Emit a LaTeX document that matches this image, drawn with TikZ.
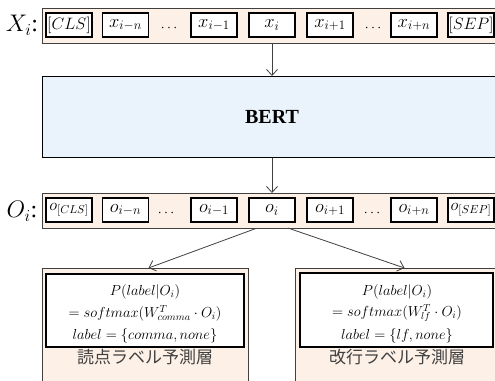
\RequirePackage{fix-cm}
\documentclass[tikz,border=0pt]{standalone}
\usepackage{fontspec}
\setmainfont{Liberation Serif}
\newfontfamily\jp{Noto Sans CJK JP}
\usetikzlibrary{arrows.meta}
\definecolor{peach}{HTML}{FDF1E7}
\definecolor{bertblue}{HTML}{EAF2FB}
\definecolor{edge}{HTML}{404040}
\begin{document}
\begin{tikzpicture}[x=1pt,y=-1pt,
  row/.style={draw=edge, fill=peach, line width=1pt, inner sep=0pt, anchor=north west},
  tok/.style={draw=black, fill=white, line width=1.1pt, minimum width=46pt, minimum height=24pt, inner sep=0pt, font=\fontsize{18.5}{20}\selectfont},
  spec/.style={tok, line width=1.5pt, font=\fontsize{16.5}{18}\selectfont},
  dots/.style={font=\fontsize{14}{16}\selectfont},
  lab/.style={font=\fontsize{24}{26}\selectfont},
  arr/.style={draw=edge, line width=0.8pt, -{Straight Barb[length=6pt,width=11pt]}},
  inbox/.style={draw=black, fill=white, line width=1.1pt, inner sep=0pt},
  formula/.style={inner xsep=0pt, inner ysep=-1pt, font=\fontsize{14.5}{16}\selectfont},
  jplab/.style={font=\jp\fontsize{17}{20}\selectfont, text=black!75}
]
\useasboundingbox (0,0) rectangle (495,380);
\clip (0,0) rectangle (495,380);

% input row
\node[row, minimum width=460pt, minimum height=35pt] (xrow) at (42,8) {};
\node[lab] (xlab) at (22,25) {$X_i$:};
\node[spec] (xcls) at (69,25) {$[CLS]$};
\node[tok] (xim) at (125.5,25) {$x_{i-n}$};
\node[dots] (xd1) at (169,28) {$\cdots$};
\node[tok] (xi1) at (214,25) {$x_{i-1}$};
\node[tok] (xi) at (272,25) {$x_{i}$};
\node[tok] (xip1) at (330,25) {$x_{i+1}$};
\node[dots] (xd2) at (373,28) {$\cdots$};
\node[tok] (xin) at (414,25) {$x_{i+n}$};
\node[spec] (xsep) at (471,25) {$[SEP]$};

% BERT
\node[row, fill=bertblue, draw=black, minimum width=460pt, minimum height=81pt] (bert) at (42,76) {};
\node[font=\fontsize{20}{24}\selectfont\bfseries] (berttxt) at (272,117) {BERT};

% output row
\node[row, minimum width=460pt, minimum height=35pt] (orow) at (42,193) {};
\node[lab] (olab) at (22,211) {$O_i$:};
\node[spec] (ocls) at (69,210) {$o_{[CLS]}$};
\node[tok] (oim) at (125.5,210) {$o_{i-n}$};
\node[dots] (od1) at (166,213) {$\cdots$};
\node[tok] (oi1) at (214,210) {$o_{i-1}$};
\node[tok] (oi) at (272,210) {$o_{i}$};
\node[tok] (oip1) at (330,210) {$o_{i+1}$};
\node[dots] (od2) at (372,213) {$\cdots$};
\node[tok] (oin) at (414,210) {$o_{i+n}$};
\node[spec] (osep) at (471,210) {$o_{[SEP]}$};

% prediction layers
\node[row, minimum width=206pt, minimum height=120pt] (lbox) at (42,268) {};
\node[inbox, minimum width=198pt, minimum height=73pt] (lin) at (145,310.5) {};
\node[formula] (lf1) at (145,291.5) {$P(label|O_i)$};
\node[formula] (lf2) at (145,313) {$= softmax(W^{T}_{comma}\cdot O_i)$};
\node[formula] (lf3) at (145,336) {$label=\{comma,none\}$};
\node[jplab] (ljp) at (145,357) {読点ラベル予測層};

\node[row, minimum width=210pt, minimum height=120pt] (rbox) at (295,268) {};
\node[inbox, minimum width=193pt, minimum height=74pt] (rin) at (396.5,310) {};
\node[formula] (rf1) at (397,291.5) {$P(label|O_i)$};
\node[formula] (rf2) at (397,313) {$= softmax(W^{T}_{lf}\cdot O_i)$};
\node[formula] (rf3) at (397,336) {$label=\{lf,none\}$};
\node[jplab] (rjp) at (397,357) {改行ラベル予測層};

% connectors
\draw[arr] (xi |- xrow.south) -- (xi |- bert.north);
\draw[arr] (oi |- bert.south) -- (oi |- orow.north);
\draw[arr, shorten <=17pt] (oi.south) -- ([xshift=3pt]lbox.north);
\draw[arr, shorten <=17pt] (oi.south) -- ([xshift=4pt]rbox.north);
\end{tikzpicture}
\end{document}
